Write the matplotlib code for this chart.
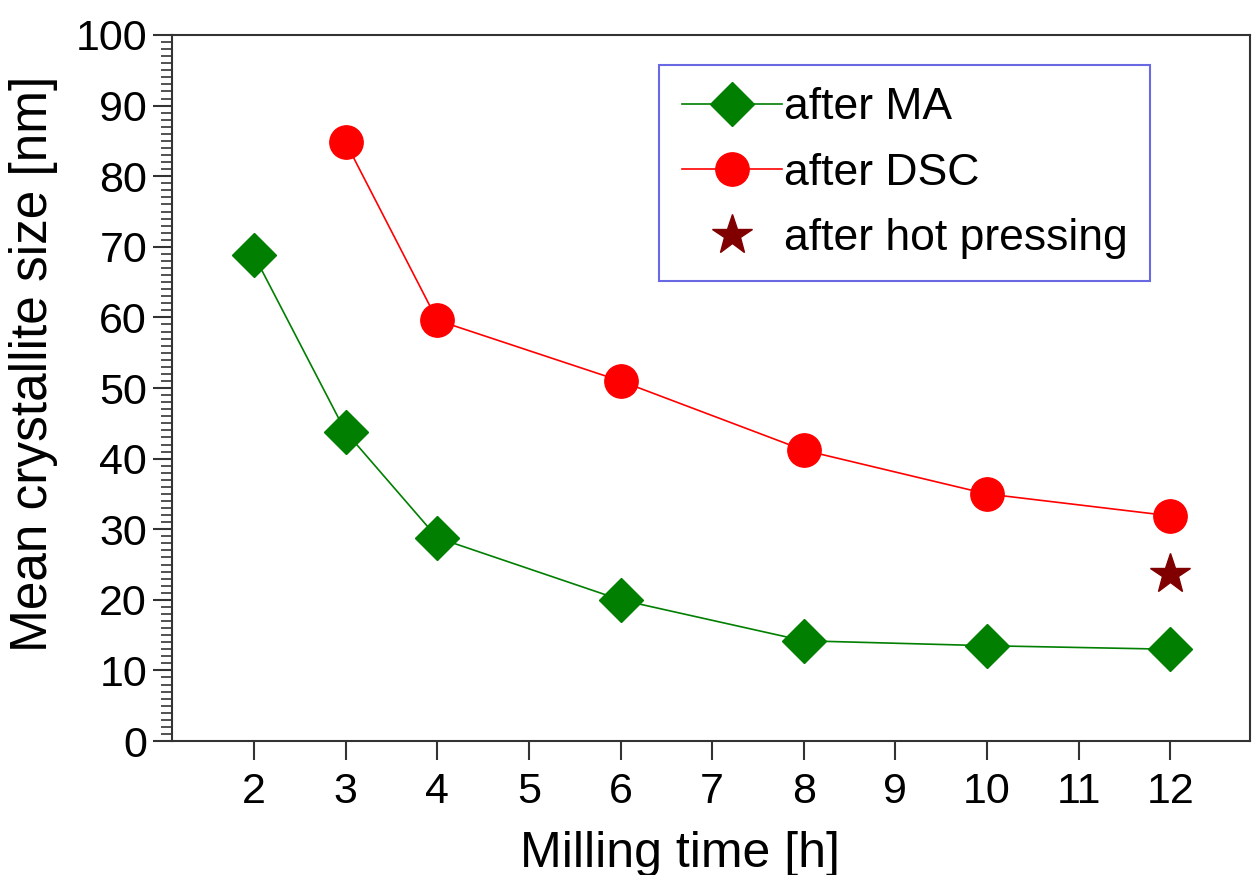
import matplotlib
matplotlib.use("Agg")
import matplotlib.pyplot as plt
from matplotlib.ticker import MultipleLocator

plt.rcParams['font.family'] = ['Liberation Sans', 'DejaVu Sans']

time_ma = [2, 3, 4, 6, 8, 10, 12]
size_ma = [68.8, 43.8, 28.8, 20.0, 14.2, 13.5, 13.0]
time_dsc = [3, 4, 6, 8, 10, 12]
size_dsc = [84.8, 59.6, 51.0, 41.2, 35.0, 31.9]
time_hp = [12]
size_hp = [23.7]
xticks = [2, 3, 4, 5, 6, 7, 8, 9, 10, 11, 12]

fig = plt.figure(figsize=(12.52, 8.75), dpi=100)
ax = fig.add_axes([0.1374, 0.1531, 0.8610, 0.8069])

ax.plot(time_ma, size_ma, color='#007f00', lw=1.2, marker='D', ms=22,
        markerfacecolor='#007f00', markeredgecolor='#007f00', label='after MA')
ax.plot(time_dsc, size_dsc, color='#ff0000', lw=1.2, marker='o', ms=24,
        markerfacecolor='#ff0000', markeredgecolor='#ff0000', label='after DSC')
ax.plot(time_hp, size_hp, ls='none', marker='*', ms=30,
        markerfacecolor='#800000', markeredgecolor='#800000', label='after hot pressing')

ax.set_xlim(1.105, 12.87)
ax.set_ylim(0, 100)
ax.set_xticks(xticks)
ax.yaxis.set_major_locator(MultipleLocator(10))
ax.yaxis.set_minor_locator(MultipleLocator(1))

for s in ax.spines.values():
    s.set_color('#333333')
    s.set_linewidth(1.5)

ax.tick_params(axis='both', which='major', direction='out', length=14, width=1.5,
               labelsize=31, colors='#333333', labelcolor='black')
ax.tick_params(axis='x', which='major', length=14, pad=8)
ax.tick_params(axis='y', which='major', pad=4)
ax.tick_params(axis='y', which='minor', direction='out', length=8, width=1.2, colors='#333333')
ax.tick_params(axis='x', which='minor', bottom=False)

fig.text(680 / 1252, 1 - 867 / 875, 'Milling time [h]', fontsize=36,
         ha='center', va='baseline')
fig.text(34 / 1252, 1 - 364 / 875, 'Mean crystallite size [nm]', fontsize=37,
         rotation=90, ha='center', va='center')

leg = ax.legend(loc='upper right', bbox_to_anchor=(0.907, 0.9575), fontsize=32,
                frameon=True, fancybox=False, handlelength=2.25, handletextpad=0.05,
                borderpad=0.5, labelspacing=0.55, borderaxespad=0)
leg.get_frame().set_edgecolor('#4444dd')
leg.get_frame().set_linewidth(1.5)

fig.savefig('out.png', dpi=100)
